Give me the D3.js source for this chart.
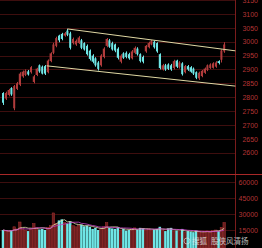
<!DOCTYPE html>
<html>
<head>
<meta charset="utf-8">
<script src="https://cdn.jsdelivr.net/npm/d3@7"></script>
<style>
  html, body { margin: 0; padding: 0; background: #000; overflow: hidden; }
  svg { display: block; }
</style>
</head>
<body>
<div id="chart-area"></div>
<script>
// daily k-line, values
const opens = [2815, 2795, 2808, 2833, 2760, 2830, 2845, 2875, 2880, 2893, 2890, 2855, 2880, 2915, 2910, 2912, 2890, 2930, 2960, 2985,
  3022, 3028, 3022, 3040, 3030, 2995, 2990, 2995, 3005, 2995, 2985, 2968, 2950, 2940, 2925, 2915, 2945, 2985, 3005, 2995,
  2990, 2975, 2928, 2958, 2960, 2955, 2940, 2960, 2975, 2955, 2945, 2965, 2980, 2990, 3000, 2995, 2955, 2900, 2915, 2918,
  2915, 2905, 2932, 2908, 2922, 2890, 2912, 2908, 2903, 2890, 2868, 2876, 2888, 2898, 2905, 2906, 2910, 2930, 2935, 2965];
const highs = [2818, 2820, 2830, 2836, 2844, 2855, 2890, 2896, 2900, 2898, 2912, 2880, 2906, 2918, 2914, 2916, 2936, 2962, 2996, 3018,
  3025, 3032, 3035, 3046, 3036, 3015, 3008, 3020, 3010, 2998, 2990, 2972, 2955, 2944, 2930, 2955, 2980, 3013, 3010, 3000,
  2993, 2980, 2955, 2962, 2965, 2960, 2970, 2983, 2980, 2958, 2950, 2988, 3000, 3006, 3004, 2998, 2958, 2920, 2920, 2922,
  2920, 2935, 2935, 2930, 2926, 2916, 2916, 2912, 2907, 2893, 2892, 2898, 2907, 2918, 2922, 2926, 2930, 2933, 2972, 2998];
const lows = [2772, 2790, 2803, 2805, 2753, 2826, 2840, 2870, 2876, 2878, 2885, 2850, 2876, 2888, 2882, 2880, 2886, 2926, 2955, 2980,
  2998, 3005, 3018, 3020, 2972, 2990, 2985, 2992, 2973, 2968, 2950, 2932, 2922, 2910, 2896, 2910, 2940, 2980, 2978, 2968,
  2962, 2936, 2922, 2938, 2940, 2935, 2936, 2955, 2950, 2925, 2922, 2960, 2976, 2987, 2975, 2960, 2900, 2896, 2895, 2898,
  2895, 2900, 2905, 2903, 2878, 2886, 2895, 2888, 2880, 2865, 2862, 2872, 2884, 2894, 2902, 2903, 2906, 2918, 2925, 2960];
const closes = [2780, 2815, 2826, 2810, 2840, 2850, 2885, 2892, 2895, 2882, 2908, 2875, 2903, 2893, 2885, 2885, 2932, 2958, 2990, 3013,
  3005, 3010, 3030, 3025, 2978, 3010, 3003, 3015, 2978, 2972, 2955, 2938, 2928, 2915, 2902, 2950, 2975, 3010, 2982, 2972,
  2968, 2942, 2950, 2942, 2945, 2940, 2965, 2978, 2955, 2930, 2928, 2985, 2995, 3003, 2980, 2965, 2905, 2915, 2900, 2902,
  2900, 2930, 2910, 2925, 2883, 2912, 2900, 2892, 2885, 2870, 2888, 2895, 2903, 2915, 2918, 2922, 2925, 2923, 2968, 2990];
const volumes = [15000, 14000, 13500, 14500, 18000, 16000, 22500, 16000, 15000, 14000, 16000, 21000, 17000, 15500, 16000, 15000, 17500, 19000, 31000, 21000,
  24000, 25000, 22000, 21000, 23000, 19000, 18000, 19500, 20000, 18500, 19000, 18000, 16000, 17000, 15000, 16000, 18000, 22000, 17000, 16500,
  16000, 17500, 15000, 16000, 14500, 15000, 16000, 17000, 15500, 17000, 16500, 15000, 16000, 15000, 15500, 16000, 18000, 15000, 14000, 16500,
  17000, 14000, 14500, 13500, 16000, 13000, 14000, 13500, 13000, 14500, 13000, 12500, 13500, 14000, 13500, 14500, 15000, 14000, 17500, 22000];

const priceTicks = [2600, 2650, 2700, 2750, 2800, 2850, 2900, 2950, 3000, 3050, 3100, 3150];
const volTicks = [15000, 30000, 45000, 60000];

// channel drawn on the chart: [candle index, price]
const channelUpper = [[23, 3046], [83, 2967]];
const channelLower = [[15.6, 2913], [83, 2840]];

const W = 262, H = 248;
const plotRight = 235, split = 174;

let svg = d3.select("#chart-area").append("svg")
  .attr("width", W).attr("height", H)
  .style("background", "#000");

let x = d3.scaleLinear().domain([0, opens.length - 1]).range([3, 224.2]);
let y = d3.scaleLinear().domain([2600, 3000]).range([152.7, 41.7]);
let yv = d3.scaleLinear().domain([0, 60000]).range([246, 182]);
let step = x(1) - x(0);
let bw = step * 0.72;

const RED = "#b03c3c", CYAN = "#6fe6e6";

let candles = opens.map((o, i) => ({ i: i, o: o, h: highs[i], l: lows[i], c: closes[i], v: volumes[i] }));

// ---- GRID ----
let grid = svg.append("g");
grid.selectAll(".pg").data(priceTicks).enter().append("line")
  .attr("x1", 0).attr("x2", plotRight)
  .attr("y1", d => Math.round(y(d)) + 0.5).attr("y2", d => Math.round(y(d)) + 0.5)
  .attr("stroke", "#3e0e0e").attr("stroke-width", 1);
grid.selectAll(".vg").data(volTicks).enter().append("line")
  .attr("x1", 0).attr("x2", plotRight)
  .attr("y1", d => Math.round(yv(d)) + 0.5).attr("y2", d => Math.round(yv(d)) + 0.5)
  .attr("stroke", "#3e0e0e").attr("stroke-width", 1);

// ---- AXES (right side) ----
let yAxis = d3.axisRight(y).tickValues(priceTicks).tickSize(0).tickPadding(0).tickFormat(d3.format("d"));
let vAxis = d3.axisRight(yv).tickValues(volTicks).tickSize(0).tickPadding(0).tickFormat(d3.format("d"));

[[yAxis], [vAxis]].forEach(([ax]) => {
  let g = svg.append("g").attr("transform", "translate(258,0)").call(ax);
  g.select(".domain").remove();
  g.selectAll("text")
    .attr("text-anchor", "end")
    .attr("fill", "#b43434")
    .style("font-family", "'Liberation Sans', Arial, sans-serif")
    .style("font-size", "7px");
});

svg.append("line")
  .attr("x1", plotRight + 0.5).attr("x2", plotRight + 0.5)
  .attr("y1", 0).attr("y2", H)
  .attr("stroke", "#7a1c1c");
svg.append("line")
  .attr("x1", 0).attr("x2", W)
  .attr("y1", split + 0.5).attr("y2", split + 0.5)
  .attr("stroke", "#a82828");

// ---- CANDLES ----
let cg = svg.append("g");
cg.selectAll(".wick").data(candles).enter().append("line")
  .attr("x1", d => Math.round(x(d.i)) + 0.5).attr("x2", d => Math.round(x(d.i)) + 0.5)
  .attr("y1", d => y(d.h)).attr("y2", d => y(d.l))
  .attr("stroke", d => d.c >= d.o ? RED : CYAN).attr("stroke-width", 1);
cg.selectAll(".body").data(candles).enter().append("rect")
  .attr("x", d => x(d.i) - bw / 2)
  .attr("y", d => y(Math.max(d.o, d.c)))
  .attr("width", bw)
  .attr("height", d => Math.max(1, Math.abs(y(d.o) - y(d.c))))
  .attr("fill", d => d.c >= d.o ? RED : CYAN);

// ---- CHANNEL ----
let line = d3.line().x(d => x(d[0])).y(d => y(d[1]));
[channelUpper, channelLower].forEach(pts => {
  svg.append("path").attr("d", line(pts))
    .attr("fill", "none").attr("stroke", "#e0d8a4").attr("stroke-width", 1);
});

// ---- VOLUME ----
let vg = svg.append("g");
vg.selectAll(".vbar").data(candles).enter().append("rect")
  .attr("x", d => x(d.i) - step * 0.45)
  .attr("y", d => yv(d.v))
  .attr("width", step * 0.9)
  .attr("height", d => H - yv(d.v))
  .attr("fill", d => d.c >= d.o ? "#6a1e1e" : CYAN)
  .attr("stroke", d => d.c >= d.o ? "#a43030" : "none")
  .attr("stroke-width", 0.5);

// volume moving averages
function ma(n) {
  return volumes.map((v, i) => d3.mean(volumes.slice(Math.max(0, i - n + 1), i + 1)));
}
let vline = d3.line().x((d, i) => x(i)).y(d => yv(d));
svg.append("path").attr("d", vline(ma(5)))
  .attr("fill", "none").attr("stroke", "#e6e0b0").attr("stroke-width", 0.8);
svg.append("path").attr("d", vline(ma(10)))
  .attr("fill", "none").attr("stroke", "#c844c8").attr("stroke-width", 0.8);

// ---- WATERMARK ----
let wm = svg.append("g").attr("opacity", 0.8);
wm.append("circle").attr("cx", 187).attr("cy", 241).attr("r", 3)
  .attr("fill", "none").attr("stroke", "#ddd").attr("stroke-width", 0.8);
wm.append("text").attr("x", 192).attr("y", 244)
  .attr("fill", "#e6e6e6")
  .style("font-family", "'Noto Sans CJK SC', sans-serif")
  .style("font-size", "7.5px")
  .text("搜狐");
wm.append("text").attr("x", 211).attr("y", 244)
  .attr("fill", "#e6e6e6")
  .style("font-family", "'Noto Sans CJK SC', sans-serif")
  .style("font-size", "7.5px")
  .text("股侠风清扬");
</script>
</body>
</html>
